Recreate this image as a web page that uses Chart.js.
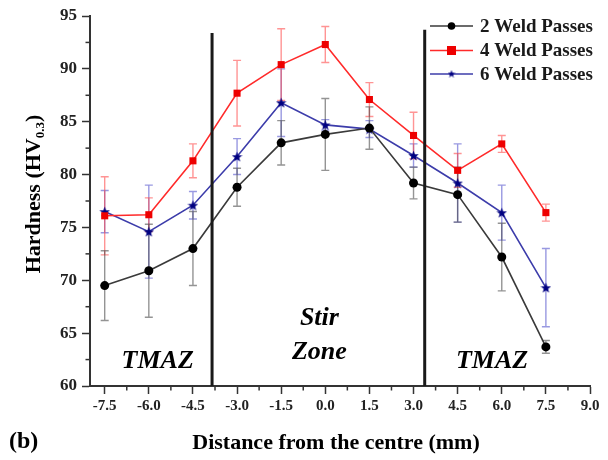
<!DOCTYPE html>
<html><head><meta charset="utf-8">
<script src="https://cdn.jsdelivr.net/npm/chart.js@4.4.1/dist/chart.umd.min.js"></script>
<style>html,body{margin:0;padding:0;background:#fff}</style>
</head><body>
<canvas id="c" width="608" height="460"></canvas>
<script>
// ---- data ----
const positions = [-7.5, -6.0, -4.5, -3.0, -1.5, 0.0, 1.5, 3.0, 4.5, 6.0, 7.5];
const pass2 = [69.5, 70.9, 73.0, 78.8, 83.0, 83.8, 84.4, 79.2, 78.1, 72.2, 63.7];
const pass2Err = [3.3, 4.4, 3.5, 1.8, 2.1, 3.4, 2.0, 1.5, 2.6, 3.2, 0.6];
const pass4 = [76.1, 76.2, 81.3, 87.7, 90.4, 92.3, 87.1, 83.7, 80.4, 82.9, 76.4];
const pass4Err = [3.7, 1.6, 1.6, 3.1, 3.4, 1.7, 1.6, 2.2, 1.6, 0.8, 0.8];
const pass6 = [76.5, 74.6, 77.1, 81.7, 86.8, 84.7, 84.3, 81.8, 79.2, 76.4, 69.3];
const pass6Err = [2.0, 4.4, 1.3, 1.7, 3.2, 0.5, 0.8, 1.1, 3.7, 2.6, 3.7];
const seriesNames = ['2 Weld Passes', '4 Weld Passes', '6 Weld Passes'];
const xTickValues = [-7.5, -6.0, -4.5, -3.0, -1.5, 0.0, 1.5, 3.0, 4.5, 6.0, 7.5, 9.0];
const xMinorValues = [-6.75, -5.25, -3.75, -2.25, -0.75, 0.75, 2.25, 3.75, 5.25, 6.75, 8.25];
const yTickValues = [60, 65, 70, 75, 80, 85, 90, 95];
const yMinorValues = [62.5, 67.5, 72.5, 77.5, 82.5, 87.5, 92.5];
const zoneBoundaries = [-3.85, 3.38];
const zoneBoundaryTops = [93.4, 93.7];
const zoneTexts = ['TMAZ', 'Stir', 'Zone', 'TMAZ'];

// ---- styling / placement ----
const SERIF = '"Liberation Serif", "Times New Roman", serif';
const zoneTextAt = [[-5.7, 62.3], [-0.2, 66.4], [-0.2, 63.2], [5.67, 62.3]];

function starCanvas(color, size) {
  const c = document.createElement('canvas');
  c.width = size; c.height = size;
  const g = c.getContext('2d');
  const cx = size / 2, cy = size / 2 + 0.5, R = size / 2, r = R * 0.42;
  g.beginPath();
  for (let i = 0; i < 10; i++) {
    const a = -Math.PI / 2 + i * Math.PI / 5;
    const rad = i % 2 === 0 ? R : r;
    g.lineTo(cx + rad * Math.cos(a), cy + rad * Math.sin(a));
  }
  g.closePath(); g.fillStyle = color; g.fill();
  return c;
}
const starImg = starCanvas('#000080', 11);
const starImgSmall = starCanvas('#000080', 8);

const series = [
  { name: seriesNames[0], values: pass2, err: pass2Err, line: '#3a3a3a', mark: '#000000', errColor: 'rgba(60,60,60,0.55)', style: 'circle', radius: 4.5 },
  { name: seriesNames[1], values: pass4, err: pass4Err, line: '#ff2a2a', mark: '#ee0000', errColor: 'rgba(255,60,60,0.55)', style: 'rect', radius: 5 },
  { name: seriesNames[2], values: pass6, err: pass6Err, line: '#3c3caa', mark: '#000080', errColor: 'rgba(70,70,200,0.55)', style: starImg, radius: 5 }
];

const boundaryDatasets = zoneBoundaries.map((bx, i) => ({
  label: 'boundary' + i,
  data: [{ x: bx, y: 60 }, { x: bx, y: zoneBoundaryTops[i] }],
  borderColor: '#1a1a1a', borderWidth: 3, pointRadius: 0, pointHoverRadius: 0, fill: false, order: 0
}));

const seriesDatasets = series.map(s => ({
  label: s.name,
  data: positions.map((p, i) => ({ x: p, y: s.values[i] })),
  borderColor: s.line, borderWidth: 1.6, backgroundColor: s.mark,
  pointStyle: s.style, pointRadius: s.radius, pointBackgroundColor: s.mark, pointBorderColor: s.mark,
  pointBorderWidth: 0, tension: 0, fill: false, order: 1
}));

const errorBars = {
  id: 'errorBars',
  beforeDatasetsDraw(chart) {
    const { ctx, scales: { x, y } } = chart;
    [2, 1, 0].forEach(k => {
      const s = series[k];
      ctx.save();
      ctx.strokeStyle = s.errColor; ctx.lineWidth = 1.4;
      positions.forEach((p, i) => {
        const px = x.getPixelForValue(p);
        const t = y.getPixelForValue(s.values[i] + s.err[i]);
        const b = y.getPixelForValue(s.values[i] - s.err[i]);
        ctx.beginPath();
        ctx.moveTo(px, t); ctx.lineTo(px, b);
        ctx.moveTo(px - 4, t); ctx.lineTo(px + 4, t);
        ctx.moveTo(px - 4, b); ctx.lineTo(px + 4, b);
        ctx.stroke();
      });
      ctx.restore();
    });
  }
};

const decorations = {
  id: 'decorations',
  afterDraw(chart) {
    const { ctx, scales: { x, y }, chartArea } = chart;
    ctx.save();
    // minor ticks
    ctx.strokeStyle = '#333'; ctx.lineWidth = 1.5;
    xMinorValues.forEach(v => {
      const px = x.getPixelForValue(v);
      ctx.beginPath(); ctx.moveTo(px, chartArea.bottom); ctx.lineTo(px, chartArea.bottom + 4.5); ctx.stroke();
    });
    yMinorValues.forEach(v => {
      const py = y.getPixelForValue(v);
      ctx.beginPath(); ctx.moveTo(chartArea.left, py); ctx.lineTo(chartArea.left - 4.5, py); ctx.stroke();
    });
    // zone labels
    ctx.fillStyle = '#000';
    ctx.font = 'italic bold 26px ' + SERIF;
    ctx.textAlign = 'center'; ctx.textBaseline = 'middle';
    zoneTexts.forEach((t, i) => {
      ctx.fillText(t, x.getPixelForValue(zoneTextAt[i][0]), y.getPixelForValue(zoneTextAt[i][1]));
    });
    // x title and panel label
    ctx.font = 'bold 22px ' + SERIF;
    ctx.fillText('Distance from the centre (mm)', (chartArea.left + chartArea.right) / 2 - 4, 443);
    ctx.font = 'bold 24px ' + SERIF;
    ctx.textAlign = 'left';
    ctx.fillText('(b)', 9, 442);
    // y title with subscript
    ctx.save();
    ctx.translate(33, 194);
    ctx.rotate(-Math.PI / 2);
    const big = 'bold 22px ' + SERIF, small = 'bold 13px ' + SERIF;
    ctx.font = big; const w1 = ctx.measureText('Hardness (HV').width; const w3 = ctx.measureText(')').width;
    ctx.font = small; const w2 = ctx.measureText('0.3').width;
    let sx = -(w1 + w2 + w3) / 2;
    ctx.textAlign = 'left'; ctx.textBaseline = 'alphabetic';
    ctx.font = big; ctx.fillText('Hardness (HV', sx, 7);
    ctx.font = small; ctx.fillText('0.3', sx + w1, 11);
    ctx.font = big; ctx.fillText(')', sx + w1 + w2, 7);
    ctx.restore();
    // legend
    const lx0 = 430, lx1 = 473, tx = 480, rows = [26, 50.5, 74];
    series.forEach((s, i) => {
      const ry = rows[i];
      ctx.strokeStyle = s.line; ctx.lineWidth = 1.6;
      ctx.beginPath(); ctx.moveTo(lx0, ry); ctx.lineTo(lx1, ry); ctx.stroke();
      const mx = (lx0 + lx1) / 2;
      ctx.fillStyle = s.mark;
      if (i === 0) { ctx.beginPath(); ctx.arc(mx, ry, 3.8, 0, Math.PI * 2); ctx.fill(); }
      else if (i === 1) { ctx.fillRect(mx - 4.5, ry - 4.5, 9, 9); }
      else { ctx.drawImage(starImgSmall, mx - 4, ry - 4.5); }
      ctx.fillStyle = '#1a1a1a';
      ctx.font = 'bold 19px ' + SERIF; ctx.textAlign = 'left'; ctx.textBaseline = 'middle';
      ctx.fillText(s.name, tx, ry + 1);
    });
    ctx.restore();
  }
};

new Chart(document.getElementById('c'), {
  type: 'line',
  data: { datasets: [...boundaryDatasets, ...seriesDatasets] },
  options: {
    responsive: false, animation: false, devicePixelRatio: 1,
    layout: { padding: { top: 16, right: 18, left: 0, bottom: 0 } },
    plugins: { legend: { display: false }, tooltip: { enabled: false } },
    scales: {
      x: {
        type: 'linear', min: -8, max: 9,
        afterBuildTicks: s => { s.ticks = xTickValues.map(v => ({ value: v })); },
        afterFit: s => { s.height = 74; },
        ticks: { color: '#222', font: { family: SERIF, size: 15, weight: 'bold' }, padding: 3, maxRotation: 0, autoSkip: false,
          callback: v => Number(v).toFixed(1) },
        grid: { drawOnChartArea: false, drawTicks: true, tickLength: 8, tickColor: '#333', tickWidth: 1.5 },
        border: { display: true, color: '#333', width: 2 }
      },
      y: {
        type: 'linear', min: 60, max: 95,
        afterBuildTicks: s => { s.ticks = yTickValues.map(v => ({ value: v })); },
        afterFit: s => { s.width = 90; },
        ticks: { color: '#222', font: { family: SERIF, size: 17, weight: 'bold' }, padding: 5, autoSkip: false,
          callback: v => String(v) },
        grid: { drawOnChartArea: false, drawTicks: true, tickLength: 8, tickColor: '#333', tickWidth: 1.5 },
        border: { display: true, color: '#333', width: 2 }
      }
    }
  },
  plugins: [errorBars, decorations]
});
</script>
</body></html>
